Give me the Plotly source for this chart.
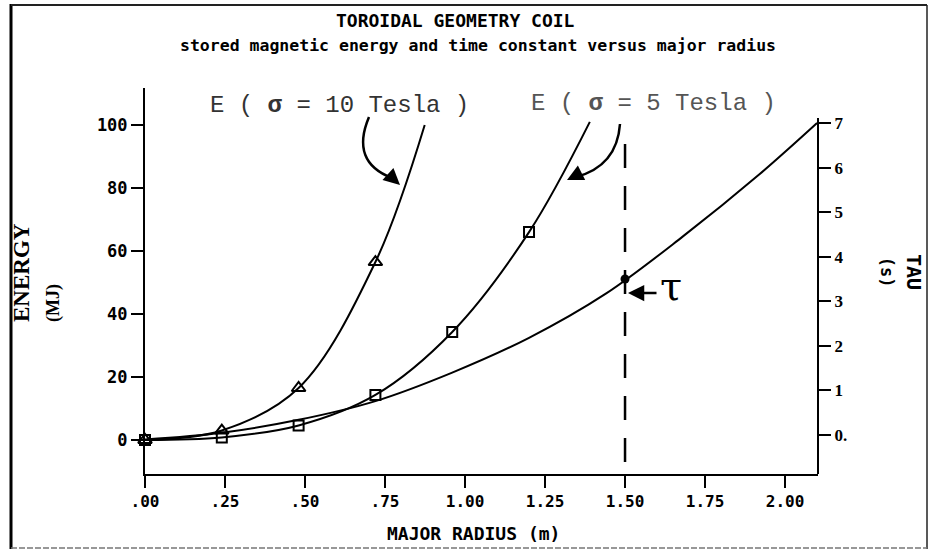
import plotly.graph_objects as go

# ---------------- data ----------------
radius_e10 = [0.0, 0.24, 0.48, 0.72, 0.874]
energy_e10 = [0.0, 3.0, 16.5, 56.5, 100.0]
marker_r_e10 = [0.0, 0.24, 0.48, 0.72]
marker_e_e10 = [0.0, 3.0, 16.5, 56.5]

radius_e5 = [0.0, 0.24, 0.48, 0.72, 0.96, 1.20, 1.39]
energy_e5 = [0.0, 0.8, 4.6, 14.3, 34.3, 66.0, 101.0]
marker_r_e5 = [0.0, 0.24, 0.48, 0.72, 0.96, 1.20]
marker_e_e5 = [0.0, 0.8, 4.6, 14.3, 34.3, 66.0]

radius_tau = [0.0, 0.24, 0.48, 0.72, 0.96, 1.20, 1.44, 1.68, 1.92, 2.10]
tau_values = [-0.1, 0.05, 0.34, 0.76, 1.40, 2.18, 3.17, 4.45, 5.85, 7.0]

tau_point_r = [1.5]
tau_point_v = [3.5]

x_tickvals = [0.0, 0.25, 0.5, 0.75, 1.0, 1.25, 1.5, 1.75, 2.0]
x_ticktext = [".00", ".25", ".50", ".75", "1.00", "1.25", "1.50", "1.75", "2.00"]
y_tickvals = [0, 20, 40, 60, 80, 100]
tau_tickvals = [0, 1, 2, 3, 4, 5, 6, 7]
tau_ticktext = ["0.", "1", "2", "3", "4", "5", "6", "7"]

DASH_X = 1.5

# ---------------- geometry helpers ----------------
W, H = 933, 550
ML, MR, MT, MB = 145, 115, 88, 76
PW = W - ML - MR
PH = H - MT - MB


def px(x):
    return (x - ML) / PW


def py(y):
    return (H - MB - y) / PH


fig = go.Figure()

fig.add_trace(go.Scatter(x=radius_tau, y=tau_values, yaxis="y2", mode="lines",
                         line=dict(color="black", width=2, shape="spline"),
                         showlegend=False, hoverinfo="skip"))
fig.add_trace(go.Scatter(x=radius_e10, y=energy_e10, mode="lines",
                         line=dict(color="black", width=2, shape="spline"),
                         showlegend=False, cliponaxis=False))
fig.add_trace(go.Scatter(x=marker_r_e10, y=marker_e_e10, mode="markers",
                         marker=dict(symbol="triangle-up-open", size=12,
                                     color="black", line=dict(width=2)),
                         showlegend=False, cliponaxis=False))
fig.add_trace(go.Scatter(x=radius_e5, y=energy_e5, mode="lines",
                         line=dict(color="black", width=2, shape="spline"),
                         showlegend=False, cliponaxis=False))
fig.add_trace(go.Scatter(x=marker_r_e5, y=marker_e_e5, mode="markers",
                         marker=dict(symbol="square-open", size=10,
                                     color="black", line=dict(width=2)),
                         showlegend=False, cliponaxis=False))
fig.add_trace(go.Scatter(x=tau_point_r, y=tau_point_v, yaxis="y2", mode="markers",
                         marker=dict(symbol="circle", size=9, color="black"),
                         showlegend=False))

mono_b = dict(family="DejaVu Sans Mono", color="black", weight="bold")

fig.update_layout(
    width=W, height=H, autosize=False,
    margin=dict(l=ML, r=MR, t=MT, b=MB),
    paper_bgcolor="white", plot_bgcolor="white",
    xaxis=dict(range=[0, 2.103], showgrid=False, zeroline=False,
               showline=True, linecolor="black", linewidth=2,
               ticks="outside", ticklen=12, tickwidth=2, tickcolor="black",
               tickvals=x_tickvals, ticktext=x_ticktext,
               tickfont=dict(size=16, **mono_b)),
    yaxis=dict(range=[-10.8, 111.75], showgrid=False, zeroline=False,
               showline=True, linecolor="black", linewidth=2,
               ticks="outside", ticklen=12, tickwidth=2, tickcolor="black",
               tickvals=y_tickvals, tickfont=dict(size=17, **mono_b)),
    yaxis2=dict(range=[-0.875, 7.785], overlaying="y", side="right",
                showgrid=False, zeroline=False, showline=False,
                ticks="outside", ticklen=12, tickwidth=2, tickcolor="black",
                tickvals=tau_tickvals, ticktext=tau_ticktext,
                tickfont=dict(size=17, family="Liberation Serif", color="black", weight="bold")),
)

annotations = [
    dict(text="TOROIDAL GEOMETRY COIL", x=px(455), y=py(20),
         font=dict(size=18, **mono_b)),
    dict(text="stored magnetic energy and time constant versus major radius",
         x=px(478), y=py(45), font=dict(size=16.5, **mono_b)),
    dict(text="MAJOR RADIUS (m)", x=px(473), y=py(533),
         font=dict(size=18, **mono_b)),
    dict(text="ENERGY<br><span style='font-size:18px'>(MJ)</span>", x=px(36), y=py(273),
         textangle=-90, align="left",
         font=dict(size=23, family="Liberation Serif", color="black", weight="bold")),
    dict(text="TAU<br><span style='font-size:17px'>(s)</span>", x=px(902), y=py(272),
         textangle=90, align="center",
         font=dict(size=20, **mono_b)),
    dict(text="E ( <b>σ</b> = 10 Tesla )", x=px(339), y=py(105),
         font=dict(size=24, family="Liberation Mono", color="#333333")),
    dict(text="E ( <b>σ</b> = 5 Tesla )", x=px(653), y=py(103),
         font=dict(size=24, family="Liberation Mono", color="#555555")),
    dict(text="τ", x=px(671), y=py(286),
         font=dict(size=40, family="DejaVu Serif", color="black")),
]
for a in annotations:
    a.update(xref="paper", yref="paper", showarrow=False,
             xanchor="center", yanchor="middle")

# arrow heads
arrow_heads = [
    dict(x=px(400), y=py(185), ax=-11, ay=-10),
    dict(x=px(567), y=py(180), ax=10, ay=-5),
    dict(x=px(628), y=py(293), ax=30, ay=0),
]
for a in arrow_heads:
    a.update(xref="paper", yref="paper", text="", showarrow=True,
             arrowhead=2, arrowsize=1.3, arrowwidth=2.5, arrowcolor="black")
    annotations.append(a)

fig.update_layout(annotations=annotations)


def pth(points):
    (x0, y0), (cx, cy), (x1, y1) = points
    return f"M {px(x0)},{py(y0)} Q {px(cx)},{py(cy)} {px(x1)},{py(y1)}"


shapes = [
    # curved hand-drawn arrow bodies
    dict(type="path", path=pth([(369, 117), (350, 162), (392, 178)]),
         line=dict(color="black", width=2.5)),
    dict(type="path", path=pth([(620, 124), (617, 166), (576, 177)]),
         line=dict(color="black", width=2.5)),
    # right (tau) axis line
    dict(type="line", x0=1, x1=1, y0=0, y1=py(118),
         line=dict(color="black", width=2)),
    # dashed vertical line at 1.5 m
    dict(type="line", xref="x", x0=DASH_X, x1=DASH_X, y0=py(462), y1=py(128),
         line=dict(color="black", width=2.5, dash="24px,18px")),
    # page frame
    dict(type="line", x0=px(11), x1=px(11), y0=py(4), y1=py(549),
         line=dict(color="black", width=3)),
    dict(type="line", x0=px(11), x1=px(927), y0=py(5), y1=py(5),
         line=dict(color="#222222", width=2)),
    dict(type="line", x0=px(927), x1=px(927), y0=py(5), y1=py(549),
         line=dict(color="#222222", width=1.5)),
    dict(type="line", x0=px(11), x1=px(927), y0=py(548), y1=py(548),
         line=dict(color="#777777", width=1.5, dash="6px,2px")),
]
for s in shapes:
    s.setdefault("xref", "paper")
    s.setdefault("yref", "paper")
fig.update_layout(shapes=shapes)

fig.write_html("out.html", config={"displayModeBar": False},
               post_script="document.body.style.margin='0';document.body.style.overflow='hidden';")
